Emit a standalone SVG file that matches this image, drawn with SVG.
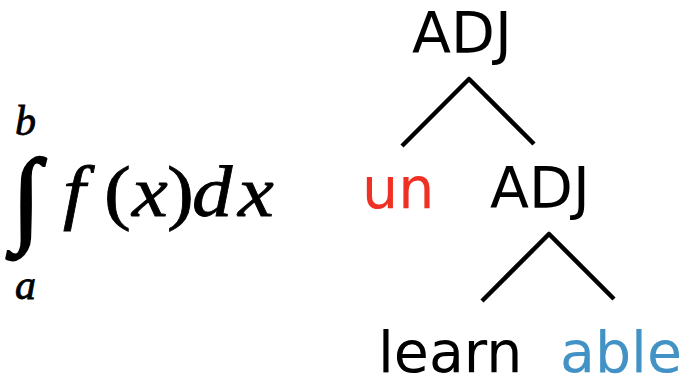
<svg xmlns="http://www.w3.org/2000/svg" width="688" height="376" viewBox="0 0 688 376">
<style>
.m{font-family:"Liberation Serif","Times New Roman",serif;font-style:italic;fill:#000;stroke:#000;stroke-width:0.8}
.u{font-family:"Liberation Serif","Times New Roman",serif;fill:#000;stroke:#000;stroke-width:0.8}
.fx{font-size:72px}
.t{font-family:"DejaVu Sans",Verdana,sans-serif;font-size:57px;fill:#000}
.edge{stroke:#000;stroke-width:4.5;fill:none}
</style>
<rect width="688" height="376" fill="#fff"/>
<g id="formula">
<text class="u" x="12" y="232" font-size="105" style="stroke-width:2.5">∫</text>
<text class="m" x="15" y="135" font-size="42">b</text>
<text class="m" x="15" y="299" font-size="42">a</text>
<text class="m fx" transform="translate(63,216) scale(1.12,1)">f</text>
<text class="u fx" transform="translate(104,216) scale(1.12,1)">(</text>
<text class="m fx" transform="translate(132,216) scale(1.12,1)">x</text>
<text class="u fx" transform="translate(167,216) scale(1.12,1)">)</text>
<text class="m fx" transform="translate(192,216) scale(1.12,1)">d</text>
<text class="m fx" transform="translate(238,216) scale(1.12,1)">x</text>
</g>
<g id="connectors">
<line class="edge" x1="402" y1="146" x2="470" y2="78"/>
<line class="edge" x1="468" y1="78" x2="534" y2="144"/>
<line class="edge" x1="482" y1="301" x2="550" y2="233"/>
<line class="edge" x1="548" y1="233" x2="614" y2="299"/>
</g>
<g id="adj-top"><text class="t" x="412" y="53">ADJ</text></g>
<g id="un"><text class="t" x="362" y="208" style="fill:#ee3124">un</text></g>
<g id="adj-mid"><text class="t" x="490" y="208">ADJ</text></g>
<g id="learn"><text class="t" x="378" y="372">learn</text></g>
<g id="able"><text class="t" x="560" y="372" style="fill:#4292c6">able</text></g>
</svg>
